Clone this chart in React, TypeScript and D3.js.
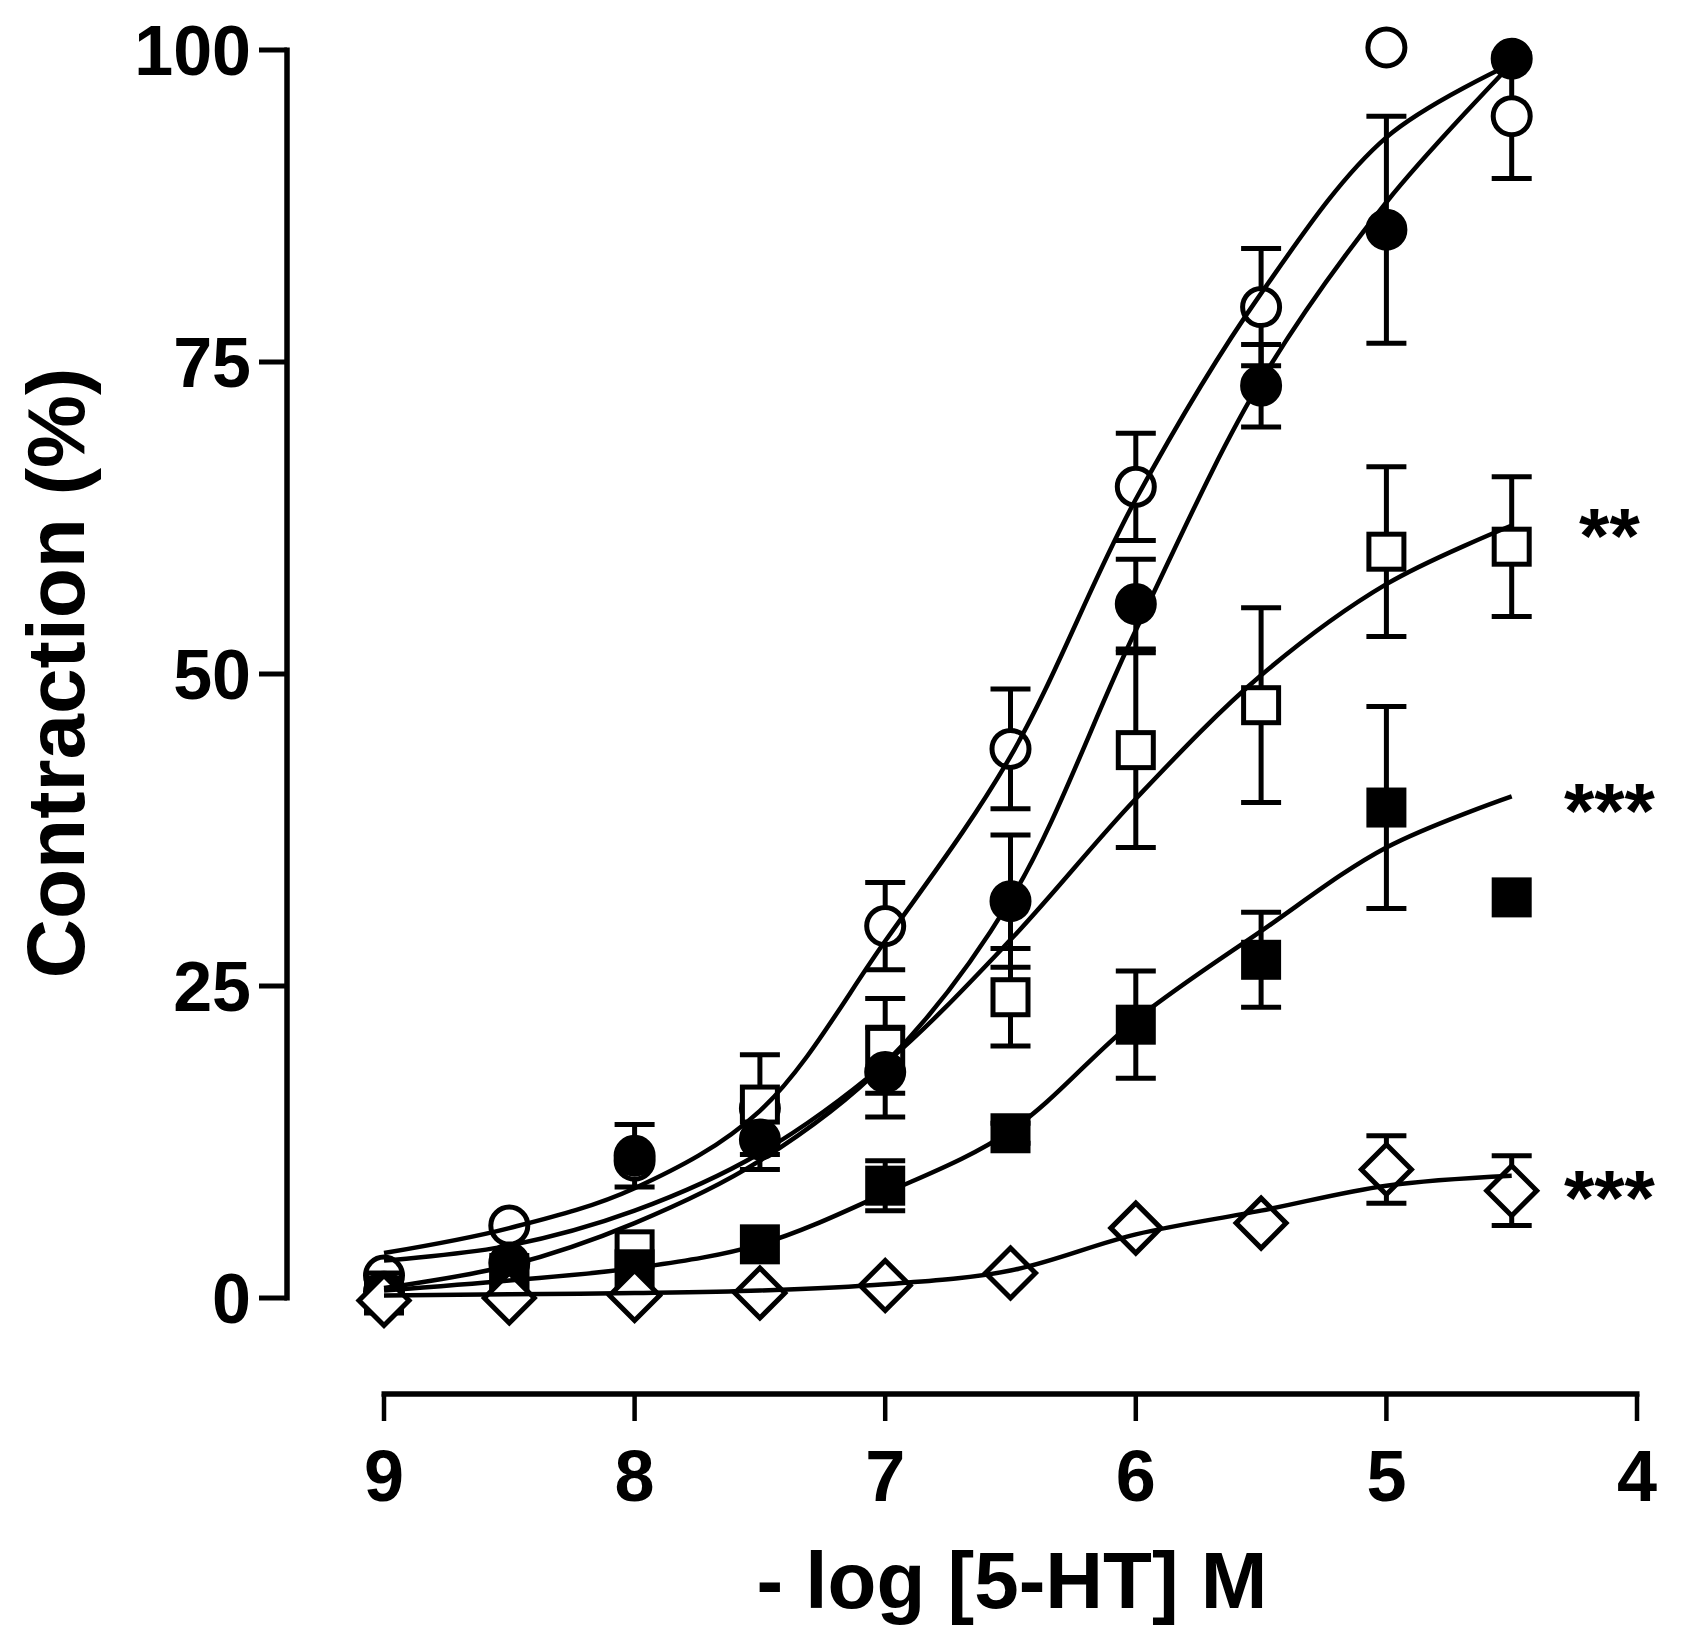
import * as d3 from 'd3'

// x: -log [5-HT] M, half-log steps
const doses = [9, 8.5, 8, 7.5, 7, 6.5, 6, 5.5, 5, 4.5]

// measured points (mean, SEM); null SEM = no bar visible
const openCircle = [1.8, 5.8, 11.0, 15.2, 29.8, 44.0, 65.0, 79.4, 100.2, 94.7]
const openCircleErr = [null, null, null, null, 3.5, 4.8, 4.3, 4.7, null, 5.0]
const filledCircle = [0.5, 2.8, 11.4, 12.7, 18.1, 31.8, 55.6, 73.1, 85.6, 99.3]
const filledCircleErr = [null, null, 2.5, 2.4, 3.6, 5.3, 3.6, 3.3, 9.1, null]
const openSquare = [0.6, 2.0, 3.9, 15.5, 20.2, 24.1, 43.9, 47.5, 59.8, 60.2]
const openSquareErr = [null, null, null, 4.0, 3.8, 3.9, 7.8, 7.8, 6.8, 5.6]
const filledSquare = [0.2, 1.3, 2.3, 4.3, 9.0, 13.2, 21.9, 27.1, 39.3, 32.1]
const filledSquareErr = [null, null, null, null, 2.0, 0.8, 4.3, 3.8, 8.1, null]
const openDiamond = [-0.2, 0.0, 0.2, 0.4, 1.0, 2.0, 5.6, 6.0, 10.3, 8.6]
const openDiamondErr = [null, null, null, null, null, null, null, null, 2.7, 2.8]

// fitted curves at the same doses
const fitOpenCircle = [3.6, 5.6, 8.8, 15.0, 28.6, 43.4, 64.0, 80.5, 93.0, 98.9]
const fitFilledCircle = [0.8, 2.6, 6.0, 11.0, 18.8, 31.9, 53.5, 73.5, 87.8, 98.9]
const fitOpenSquare = [3.0, 4.2, 7.0, 11.6, 18.8, 28.7, 40.0, 49.9, 57.2, 61.9]
const fitFilledSquare = [0.6, 1.4, 2.4, 4.3, 8.4, 13.4, 22.3, 29.4, 36.1, 40.2]
const fitOpenDiamond = [0.2, 0.3, 0.4, 0.6, 1.1, 2.2, 5.1, 7.0, 9.0, 9.8]

const xTicks = [9, 8, 7, 6, 5, 4]
const yTicks = [0, 25, 50, 75, 100]

const annotations = [
  { label: '**', x: 4.11, y: 62 },
  { label: '***', x: 4.11, y: 40 },
  { label: '***', x: 4.11, y: 9 },
]

type Shape = 'circle' | 'square' | 'diamond'

const series: { values: number[]; err: (number | null)[]; shape: Shape; filled: boolean }[] = [
  { values: openCircle, err: openCircleErr, shape: 'circle', filled: false },
  { values: openSquare, err: openSquareErr, shape: 'square', filled: false },
  { values: filledCircle, err: filledCircleErr, shape: 'circle', filled: true },
  { values: filledSquare, err: filledSquareErr, shape: 'square', filled: true },
  { values: openDiamond, err: openDiamondErr, shape: 'diamond', filled: false },
]

const fits = [fitOpenCircle, fitFilledCircle, fitOpenSquare, fitFilledSquare, fitOpenDiamond]

const W = 1681
const H = 1648
const FONT = '"Liberation Sans", Arial, Helvetica, sans-serif'
const SW = 5

export default function App() {
  const x = d3.scaleLinear().domain([9, 4]).range([384, 1637])
  const y = d3.scaleLinear().domain([0, 100]).range([1298, 50])
  const yAxisX = 287
  const xAxisY = 1394

  const line = d3
    .line<number>()
    .x((_, i) => x(doses[i]))
    .y((d) => y(d))
    .curve(d3.curveCatmullRom.alpha(0.5))

  const marker = (shape: Shape, filled: boolean, cx: number, cy: number, key: string) => {
    const fill = filled ? '#000' : '#fff'
    if (shape === 'circle')
      return <circle key={key} cx={cx} cy={cy} r={18.5} fill={fill} stroke="#000" strokeWidth={SW} />
    if (shape === 'square')
      return <rect key={key} x={cx - 17.5} y={cy - 17.5} width={35} height={35} fill={fill} stroke="#000" strokeWidth={SW} />
    const r = 25
    return (
      <path
        key={key}
        d={`M${cx},${cy - r}L${cx + r},${cy}L${cx},${cy + r}L${cx - r},${cy}Z`}
        fill={fill}
        stroke="#000"
        strokeWidth={SW}
      />
    )
  }

  return (
    <svg
      width={W}
      height={H}
      style={{ position: 'absolute', left: 0, top: 0, background: '#fff' }}
      fontFamily={FONT}
      fontWeight="bold"
    >
      <rect width={W} height={H} fill="#fff" />

      {/* y axis */}
      <line x1={yAxisX} x2={yAxisX} y1={y(100) - 2.5} y2={y(0) + 2.5} stroke="#000" strokeWidth={5.5} />
      {yTicks.map((t) => (
        <g key={`yt${t}`}>
          <line x1={259} x2={yAxisX} y1={y(t)} y2={y(t)} stroke="#000" strokeWidth={5} />
          <text x={251} y={y(t)} dy="0.36em" textAnchor="end" fontSize={70}>
            {t}
          </text>
        </g>
      ))}
      <text transform={`translate(84,673) rotate(-90)`} textAnchor="middle" fontSize={82}>
        Contraction (%)
      </text>

      {/* x axis */}
      <line x1={x(9) - 2.5} x2={x(4) + 2.5} y1={xAxisY} y2={xAxisY} stroke="#000" strokeWidth={5.5} />
      {xTicks.map((t) => (
        <g key={`xt${t}`}>
          <line x1={x(t)} x2={x(t)} y1={xAxisY} y2={1421} stroke="#000" strokeWidth={4.5} />
          <text x={x(t)} y={1501} textAnchor="middle" fontSize={72}>
            {t}
          </text>
        </g>
      ))}
      <text x={1012} y={1608} textAnchor="middle" fontSize={80}>
        - log [5-HT] M
      </text>

      {/* error bars */}
      {series.map((s, si) =>
        s.values.map((v, i) => {
          const e = s.err[i]
          if (e == null) return null
          const cx = x(doses[i])
          return (
            <g key={`e${si}-${i}`} stroke="#000" strokeWidth={SW}>
              <line x1={cx} x2={cx} y1={y(v + e)} y2={y(v - e)} />
              <line x1={cx - 20} x2={cx + 20} y1={y(v + e)} y2={y(v + e)} />
              <line x1={cx - 20} x2={cx + 20} y1={y(v - e)} y2={y(v - e)} />
            </g>
          )
        })
      )}

      {/* markers */}
      {series.map((s, si) =>
        s.values.map((v, i) => marker(s.shape, s.filled, x(doses[i]), y(v), `m${si}-${i}`))
      )}

      {/* fitted curves */}
      {fits.map((f, i) => (
        <path key={`f${i}`} d={line(f) ?? ''} fill="none" stroke="#000" strokeWidth={4.5} />
      ))}

      {/* significance */}
      {annotations.map((a, i) => (
        <text key={`a${i}`} x={x(a.x)} y={y(a.y)} dy="0.5em" textAnchor="middle" fontSize={78}>
          {a.label}
        </text>
      ))}
    </svg>
  )
}
